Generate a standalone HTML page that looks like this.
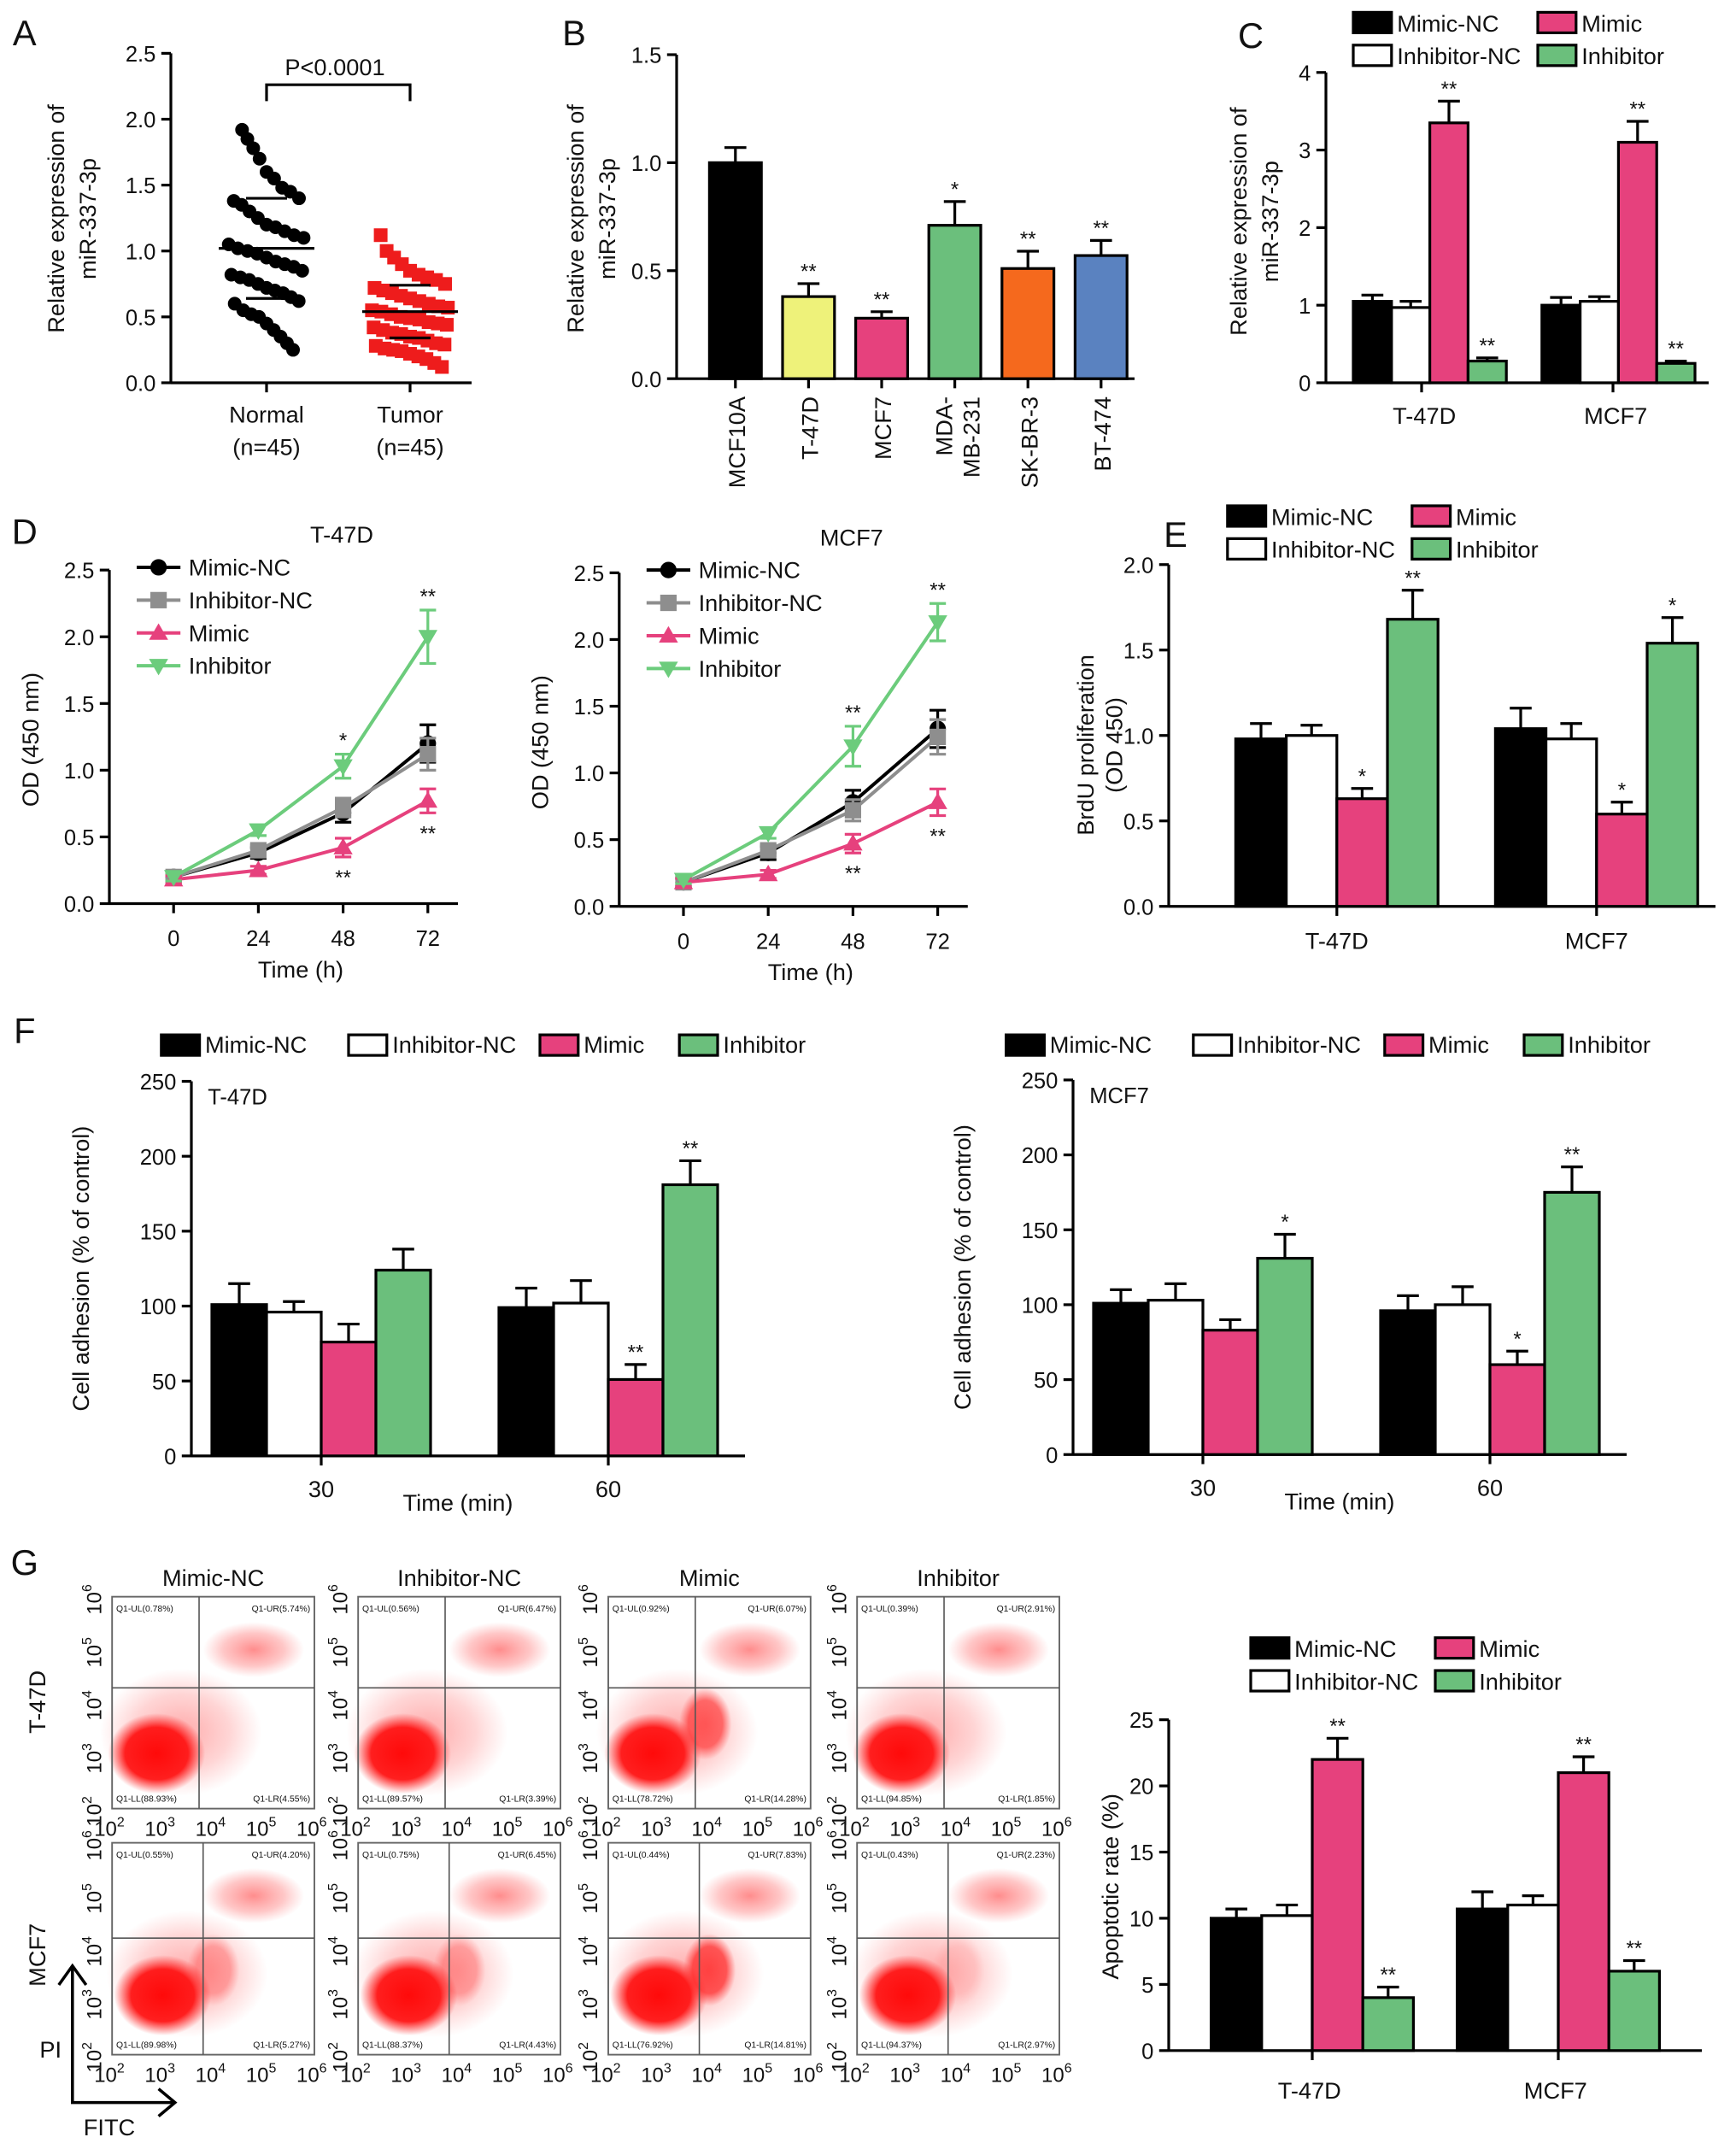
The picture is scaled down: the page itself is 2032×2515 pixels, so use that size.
<!DOCTYPE html>
<html><head><meta charset="utf-8">
<style>
html,body{margin:0;padding:0;background:#fff}
svg{display:block}
text{font-family:"Liberation Sans",Arial,sans-serif;fill:#111}
</style></head>
<body>
<svg id="fig" xmlns="http://www.w3.org/2000/svg" width="2032" height="2515" viewBox="0 0 1270 1572" preserveAspectRatio="none">
<defs>
<radialGradient id="blob" cx="50%" cy="50%" r="50%">
<stop offset="0" stop-color="#ff0a0a" stop-opacity="1"/>
<stop offset="0.65" stop-color="#ff1414" stop-opacity="0.95"/>
<stop offset="1" stop-color="#ff3030" stop-opacity="0"/>
</radialGradient>
<radialGradient id="haze" cx="50%" cy="50%" r="50%">
<stop offset="0" stop-color="#ff4040" stop-opacity="0.75"/>
<stop offset="0.6" stop-color="#ff5050" stop-opacity="0.4"/>
<stop offset="1" stop-color="#ff6060" stop-opacity="0"/>
</radialGradient>
</defs>
</svg>
<script>
// ---------- DATA ----------
const aNormal=[1.92,1.85,1.78,1.7,1.6,1.55,1.48,1.45,1.4,1.38,1.35,1.3,1.25,1.2,1.18,1.15,1.12,1.1,1.05,1.02,1.0,0.98,0.95,0.92,0.9,0.88,0.85,0.82,0.8,0.78,0.75,0.72,0.7,0.68,0.65,0.62,0.6,0.55,0.52,0.5,0.45,0.4,0.35,0.3,0.25];
const aTumor=[1.12,1.0,0.95,0.9,0.85,0.82,0.8,0.78,0.75,0.72,0.7,0.68,0.66,0.64,0.62,0.6,0.58,0.57,0.55,0.54,0.52,0.5,0.49,0.48,0.46,0.45,0.44,0.42,0.4,0.38,0.37,0.35,0.34,0.32,0.3,0.29,0.28,0.26,0.25,0.24,0.22,0.2,0.18,0.15,0.12];
const aMeans=[1.02,0.54];
const aSD=[0.38,0.2];
const bCats=["MCF10A","T-47D","MCF7","MDA-MB-231","SK-BR-3","BT-474"];
const bVals=[1.0,0.38,0.28,0.71,0.51,0.57];
const bErr=[0.07,0.06,0.03,0.11,0.08,0.07];
const bStars=["","**","**","*","**","**"];
const groupNames=["Mimic-NC","Inhibitor-NC","Mimic","Inhibitor"];
const cVals=[[1.05,0.97,3.35,0.28],[1.0,1.05,3.1,0.25]];
const cErr=[[0.08,0.08,0.28,0.04],[0.1,0.06,0.27,0.03]];
const cStars=[["","","**","**"],["","","**","**"]];
const dTimes=[0,24,48,72];
const dT47D=[[0.2,0.38,0.68,1.2],[0.2,0.4,0.72,1.12],[0.18,0.25,0.42,0.77],[0.2,0.55,1.03,2.0]];
const dMCF7=[[0.18,0.4,0.78,1.33],[0.18,0.42,0.72,1.27],[0.18,0.24,0.47,0.78],[0.2,0.55,1.2,2.13]];
const dErrT=[[0.03,0.04,0.07,0.14],[0.03,0.04,0.07,0.12],[0.03,0.03,0.07,0.09],[0.03,0.04,0.09,0.2]];
const dErrM=[[0.03,0.05,0.09,0.14],[0.03,0.04,0.08,0.13],[0.03,0.03,0.07,0.1],[0.03,0.04,0.15,0.14]];
const eVals=[[0.98,1.0,0.63,1.68],[1.04,0.98,0.54,1.54]];
const eErr=[[0.09,0.06,0.06,0.17],[0.12,0.09,0.07,0.15]];
const eStars=[["","","*","**"],["","","*","*"]];
const fLeftVals=[[101,96,76,124],[99,102,51,181]];
const fLeftErr=[[14,7,12,14],[13,15,10,16]];
const fLeftStars=[["","","",""],["","","**","**"]];
const fRightVals=[[101,103,83,131],[96,100,60,175]];
const fRightErr=[[9,11,7,16],[10,12,9,17]];
const fRightStars=[["","","","*"],["","","*","**"]];
const gVals=[[10,10.2,22,4],[10.7,11,21,6]];
const gErr=[[0.7,0.8,1.6,0.8],[1.3,0.7,1.2,0.8]];
const gStars=[["","","**","**"],["","","**","**"]];
const flowPct=[
 [["0.78%","5.74%","88.93%","4.55%"],["0.56%","6.47%","89.57%","3.39%"],["0.92%","6.07%","78.72%","14.28%"],["0.39%","2.91%","94.85%","1.85%"]],
 [["0.55%","4.20%","89.98%","5.27%"],["0.75%","6.45%","88.37%","4.43%"],["0.44%","7.83%","76.92%","14.81%"],["0.43%","2.23%","94.37%","2.97%"]]];
const flowLR=[[0.0,0.0,0.6,0.0],[0.3,0.3,0.7,0.1]];

// ---------- HELPERS ----------
const NS="http://www.w3.org/2000/svg";
const svg=document.getElementById('fig');
function el(tag,attrs,parent,txt){const e=document.createElementNS(NS,tag);for(const k in attrs)e.setAttribute(k,attrs[k]);if(txt!==undefined)e.textContent=txt;(parent||svg).appendChild(e);return e;}
const COL=["#000000","#ffffff","#e6417d","#6bbf7c"];
function grp(name){const g=el('g',{});return g;}
function txt(g,x,y,s,size,anchor,name,rot){const t=el('text',{x:x,y:y,'font-size':size,'text-anchor':anchor||'middle'},g,s);if(rot)t.setAttribute('transform',`rotate(${rot} ${x} ${y})`);return t;}
function yAxis(g,x,y0,y1,max,ticks,fmt,name){
  const sc=v=>y0-(y0-y1)*v/max;
  const ax=el('line',{x1:x,y1:y0,x2:x,y2:y1,stroke:'#000','stroke-width':2},g);
  
  ticks.forEach(v=>{el('line',{x1:x-7,x2:x,y1:sc(v),y2:sc(v),stroke:'#000','stroke-width':2},g);
    txt(g,x-11,sc(v)+6,fmt(v),16,'end','y-tick-label');});
  return sc;
}
function legend(g,x,y,dx,dy){
  groupNames.forEach((n,i)=>{const c=Math.floor(i/2),r=i%2;
    const lx=x+c*dx, ly=y+r*dy;
    const rc=el('rect',{x:lx,y:ly-13,width:28,height:15,fill:COL[i],stroke:'#000','stroke-width':2},g);
    
    txt(g,lx+32,ly+1,n,17,'start','legend-entry');});
}
function bars(g,sc,y0,centers,bw,vals,errs,stars,cols){
  vals.forEach((gv,gi)=>gv.forEach((v,i)=>{
    const x=centers[gi]+(i-gv.length/2)*bw;
    const r=el('rect',{x:x,y:sc(v),width:bw,height:y0-sc(v),fill:cols[i],stroke:'#000','stroke-width':2},g);
    
    const cx=x+bw/2,ye=sc(v+errs[gi][i]);
    el('line',{x1:cx,x2:cx,y1:sc(v),y2:ye,stroke:'#000','stroke-width':2},g);
    el('line',{x1:cx-8,x2:cx+8,y1:ye,y2:ye,stroke:'#000','stroke-width':2},g);
    if(stars[gi][i])txt(g,cx,ye-4,stars[gi][i],15,'middle','significance');
  }));
}
function xBase(g,x0,x1,y,ticks){el('line',{x1:x0,x2:x1,y1:y,y2:y,stroke:'#000','stroke-width':2},g);
  (ticks||[]).forEach(t=>el('line',{x1:t,x2:t,y1:y,y2:y+7,stroke:'#000','stroke-width':2},g));}

// ---------- PANEL A ----------
(function(){const g=grp('panel-a');
 txt(g,18,33,'A',26,'middle','panel-letter');
 const sc=yAxis(g,125,280,39,2.5,[0,0.5,1,1.5,2,2.5],v=>v.toFixed(1));
 xBase(g,125,345,280,[195,300]);
 txt(g,195,309,'Normal',17);txt(g,195,333,'(n=45)',17);
 txt(g,300,309,'Tumor',17);txt(g,300,333,'(n=45)',17);
 txt(g,47,160,'Relative expression of',17,'middle','y-axis-title',-90);
 txt(g,70,160,'miR-337-3p',17,'middle','y-axis-title',-90);
 [aNormal,aTumor].forEach((arr,gi)=>{const cx=[195,300][gi];
  arr.forEach((v,i)=>{const off=((i*37)%9-4)*7*(1-Math.abs(v-aMeans[gi])/2.5);
   const p=gi==0?el('circle',{cx:cx+off,cy:sc(v),r:5,fill:'#000'},g):el('rect',{x:cx+off-5,y:sc(v)-5,width:10,height:10,fill:'#ee1c1c'},g);
   });
  el('line',{x1:cx-35,x2:cx+35,y1:sc(aMeans[gi]),y2:sc(aMeans[gi]),stroke:'#000','stroke-width':2},g);
  [1,-1].forEach(s=>{const y=sc(aMeans[gi]+s*aSD[gi]);el('line',{x1:cx-15,x2:cx+15,y1:y,y2:y,stroke:'#000','stroke-width':2},g);});
 });
 el('path',{d:'M195 74 V62 H300 V74',fill:'none',stroke:'#000','stroke-width':2},g);
 txt(g,245,55,'P<0.0001',17,'middle','p-value');
})();

// ---------- PANEL B ----------
(function(){const g=grp('panel-b');
 txt(g,420,33,'B',26,'middle','panel-letter');
 const sc=yAxis(g,495,277,40,1.5,[0,0.5,1,1.5],v=>v.toFixed(1));
 const cols=["#000000","#eef27a","#e6417d","#6bbf7c","#f5691d","#5a82c0"];
 const xs=bCats.map((c,i)=>538+i*53.5);
 xBase(g,495,830,277,xs);
 bVals.forEach((v,i)=>{const r=el('rect',{x:xs[i]-19,y:sc(v),width:38,height:277-sc(v),fill:cols[i],stroke:'#000','stroke-width':2},g);
  
  const ye=sc(v+bErr[i]);el('line',{x1:xs[i],x2:xs[i],y1:sc(v),y2:ye,stroke:'#000','stroke-width':2},g);
  el('line',{x1:xs[i]-8,x2:xs[i]+8,y1:ye,y2:ye,stroke:'#000','stroke-width':2},g);
  if(bStars[i])txt(g,xs[i],ye-4,bStars[i],15);
 });
 bCats.forEach((c,i)=>{if(c==="MDA-MB-231"){txt(g,xs[i]-2,290,'MDA-',17,'end','x-tick-label',-90);txt(g,xs[i]+18,290,'MB-231',17,'end','x-tick-label',-90);}
  else txt(g,xs[i]+7,290,c,17,'end','x-tick-label',-90);});
 txt(g,427,160,'Relative expression of',17,'middle','y-axis-title',-90);
 txt(g,450,160,'miR-337-3p',17,'middle','y-axis-title',-90);
})();

// ---------- PANEL C ----------
(function(){const g=grp('panel-c');
 txt(g,915,35,'C',26,'middle','panel-letter');
 const sc=yAxis(g,970,280,53,4,[0,1,2,3,4],v=>String(v));
 xBase(g,970,1250,280,[1040,1180]);
 bars(g,sc,280,[1046,1184],28,cVals,cErr,cStars,COL);
 txt(g,1042,310,'T-47D',17);txt(g,1182,310,'MCF7',17);
 txt(g,912,162,'Relative expression of',17,'middle','y-axis-title',-90);
 txt(g,935,162,'miR-337-3p',17,'middle','y-axis-title',-90);
 legend(g,990,22,135,24);
})();

// ---------- PANEL D ----------
function linePanel(g,x0,y0,x72,title,data,err){
 const sc=yAxis(g,x0,y0,y0-244,2.5,[0,0.5,1,1.5,2,2.5],v=>v.toFixed(1));
 const sx=t=>x0+47+(x72-x0-47)*t/72;
 xBase(g,x0,x72+22,y0,dTimes.map(sx));
 dTimes.forEach(t=>txt(g,sx(t),y0+31,String(t),16,'middle','x-tick-label'));
 txt(g,(sx(0)+sx(72))/2,y0+54,'Time (h)',17,'middle','x-axis-title');
 txt(g,(sx(0)+sx(72))/2+30,y0-264,title,17,'middle','chart-title');
 txt(g,x0-52,y0-120,'OD (450 nm)',17,'middle','y-axis-title',-90);
 const lc=["#000000","#8e8e8e","#e6417d","#6ccc7c"];
 data.forEach((s,si)=>{
  const pts=s.map((v,i)=>sx(dTimes[i])+','+sc(v)).join(' ');
  const pl=el('polyline',{points:pts,fill:'none',stroke:lc[si],'stroke-width':2.5},g);
  
  s.forEach((v,i)=>{const x=sx(dTimes[i]),y=sc(v),e=err[si][i];
   el('line',{x1:x,x2:x,y1:sc(v-e),y2:sc(v+e),stroke:lc[si],'stroke-width':2},g);
   el('line',{x1:x-6,x2:x+6,y1:sc(v+e),y2:sc(v+e),stroke:lc[si],'stroke-width':2},g);
   el('line',{x1:x-6,x2:x+6,y1:sc(v-e),y2:sc(v-e),stroke:lc[si],'stroke-width':2},g);
   let m;
   if(si==0)m=el('circle',{cx:x,cy:y,r:6,fill:lc[si]},g);
   else if(si==1)m=el('rect',{x:x-6,y:y-6,width:12,height:12,fill:lc[si]},g);
   else if(si==2)m=el('polygon',{points:`${x},${y-7} ${x-7},${y+5} ${x+7},${y+5}`,fill:lc[si]},g);
   else m=el('polygon',{points:`${x},${y+7} ${x-7},${y-5} ${x+7},${y-5}`,fill:lc[si]},g);
   
  });
 });
 [2,3].forEach(i=>{txt(g,sx(dTimes[i]),sc(data[3][i]+err[3][i])-5,i==2&&title==='T-47D'?'*':'**',15,'middle','significance');
   txt(g,sx(dTimes[i]),sc(data[2][i]-err[2][i])+20,'**',15,'middle','significance');});
 const lx=x0+20,ly=y0-246;
 groupNames.forEach((n,i)=>{const y=ly+i*24;
  el('line',{x1:lx,x2:lx+32,y1:y,y2:y,stroke:lc[i],'stroke-width':2.5},g);
  const x=lx+16;let m;
  if(i==0)m=el('circle',{cx:x,cy:y,r:6,fill:lc[i]},g);
  else if(i==1)m=el('rect',{x:x-6,y:y-6,width:12,height:12,fill:lc[i]},g);
  else if(i==2)m=el('polygon',{points:`${x},${y-7} ${x-7},${y+5} ${x+7},${y+5}`,fill:lc[i]},g);
  else m=el('polygon',{points:`${x},${y+7} ${x-7},${y-5} ${x+7},${y-5}`,fill:lc[i]},g);
  
  txt(g,lx+38,y+6,n,17,'start','legend-entry');});
}
(function(){const g=grp('panel-d');
 txt(g,18,398,'D',26,'middle','panel-letter');
 linePanel(g,80,661,313,'T-47D',dT47D,dErrT);
 linePanel(g,453,663,686,'MCF7',dMCF7,dErrM);
})();

// ---------- PANEL E ----------
(function(){const g=grp('panel-e');
 txt(g,860,400,'E',26,'middle','panel-letter');
 const sc=yAxis(g,855,663,413,2,[0,0.5,1,1.5,2],v=>v.toFixed(1));
 xBase(g,855,1255,663,[978,1168]);
 bars(g,sc,663,[978,1168],37,eVals,eErr,eStars,COL);
 txt(g,978,694,'T-47D',17);txt(g,1168,694,'MCF7',17);
 txt(g,800,545,'BrdU proliferation',17,'middle','y-axis-title',-90);
 txt(g,821,545,'(OD 450)',17,'middle','y-axis-title',-90);
 legend(g,898,383,135,24);
})();

// ---------- PANEL F ----------
function fPanel(g,x0,y0,y250,centers,vals,errs,stars,title,lx){
 const sc=yAxis(g,x0,y0,y250,250,[0,50,100,150,200,250],v=>String(v));
 xBase(g,x0,centers[1]+100,y0,centers);
 bars(g,sc,y0,centers,40,vals,errs,stars,COL);
 txt(g,x0+12,y250+17,title,16,'start','chart-title');
 txt(g,centers[0],y0+30,'30',17,'middle','x-tick-label');
 txt(g,centers[1],y0+30,'60',17,'middle','x-tick-label');
 txt(g,(centers[0]+centers[1])/2-5,y0+40,'Time (min)',17,'middle','x-axis-title');
 txt(g,x0-75,(y0+y250)/2,'Cell adhesion (% of control)',17,'middle','y-axis-title',-90);
 const offs=[0,137,277,379];
 groupNames.forEach((n,i)=>{const x=lx+offs[i];
  const r=el('rect',{x:x,y:757,width:28,height:15,fill:COL[i],stroke:'#000','stroke-width':2},g);
  
  txt(g,x+32,770,n,17,'start','legend-entry');});
}
(function(){const g=grp('panel-f');
 txt(g,18,763,'F',26,'middle','panel-letter');
 fPanel(g,140,1065,791,[235,445],fLeftVals,fLeftErr,fLeftStars,'T-47D',118);
 fPanel(g,785,1064,790,[880,1090],fRightVals,fRightErr,fRightStars,'MCF7',736);
})();

// ---------- PANEL G flow ----------
(function(){const g=grp('panel-g-flow');
 txt(g,18,1152,'G',26,'middle','panel-letter');
 const xs=[82,262,445,627], ys=[1168,1348], W=148,H=155;
 groupNames.forEach((n,i)=>txt(g,xs[i]+W/2,1160,n,17,'middle','column-title'));
 txt(g,33,1245,'T-47D',17,'middle','row-title',-90);
 txt(g,33,1430,'MCF7',17,'middle','row-title',-90);
 ys.forEach((y,r)=>xs.forEach((x,c)=>{
  const pg=grp('flow-plot-'+r+'-'+c);g.appendChild(pg);
  const qx=x+W*(r?0.45:0.43), qy=y+H*(r?0.45:0.43);
  const mainCx=x+W*(r?0.25:0.22), mainCy=y+H*(r?0.72:0.74);
  el('ellipse',{cx:mainCx+W*0.12,cy:mainCy-H*0.1,rx:W*0.4,ry:H*0.3,fill:'url(#haze)',opacity:0.6},pg);
  el('ellipse',{cx:x+W*0.7,cy:y+H*0.25,rx:W*0.25,ry:H*0.13,fill:'url(#haze)',opacity:0.8},pg);
  if(flowLR[r][c]>0)el('ellipse',{cx:qx+W*0.05,cy:y+H*0.6,rx:W*0.13,ry:H*0.17,fill:'url(#blob)',opacity:flowLR[r][c]},pg);
  el('ellipse',{cx:mainCx,cy:mainCy,rx:W*0.24,ry:H*0.19,fill:'url(#blob)'},pg);
  el('rect',{x:x,y:y,width:W,height:H,fill:'none',stroke:'#666','stroke-width':1.2},pg);
  el('line',{x1:qx,x2:qx,y1:y,y2:y+H,stroke:'#555','stroke-width':1},pg);
  el('line',{x1:x,x2:x+W,y1:qy,y2:qy,stroke:'#555','stroke-width':1},pg);
  const p=flowPct[r][c];
  txt(pg,x+3,y+11,'Q1-UL('+p[0]+')',6.5,'start','quadrant-label');
  txt(pg,x+W-3,y+11,'Q1-UR('+p[1]+')',6.5,'end','quadrant-label');
  txt(pg,x+3,y+H-5,'Q1-LL('+p[2]+')',6.5,'start','quadrant-label');
  txt(pg,x+W-3,y+H-5,'Q1-LR('+p[3]+')',6.5,'end','quadrant-label');
  [2,3,4,5,6].forEach((e,k)=>{const tx=x+k*W/4;
   const t=txt(pg,tx-2,y+H+20,'10',15,'middle','x-tick-label');el('tspan',{dy:-7,'font-size':10},t,String(e));
   const ty=y+H-k*H/4;const t2=txt(pg,x-8,ty+2,'10',15,'middle','y-tick-label',-90);el('tspan',{dy:-7,'font-size':10},t2,String(e));
  });
 }));
 el('path',{d:'M53 1438 V1538 H128 M43 1452 L53 1438 L63 1452 M116 1528 L128 1538 L116 1548',fill:'none',stroke:'#000','stroke-width':2.2},g);
 txt(g,37,1505,'PI',17,'middle','axis-label');
 txt(g,80,1562,'FITC',17,'middle','axis-label');
})();

// ---------- PANEL G bars ----------
(function(){const g=grp('panel-g-bars');
 const sc=yAxis(g,855,1500,1258,25,[0,5,10,15,20,25],v=>String(v));
 xBase(g,855,1245,1500,[960,1140]);
 bars(g,sc,1500,[960,1140],37,gVals,gErr,gStars,COL);
 txt(g,958,1535,'T-47D',17);txt(g,1138,1535,'MCF7',17);
 txt(g,818,1380,'Apoptotic rate (%)',17,'middle','y-axis-title',-90);
 legend(g,915,1211,135,24);
})();
</script>
</body></html>
